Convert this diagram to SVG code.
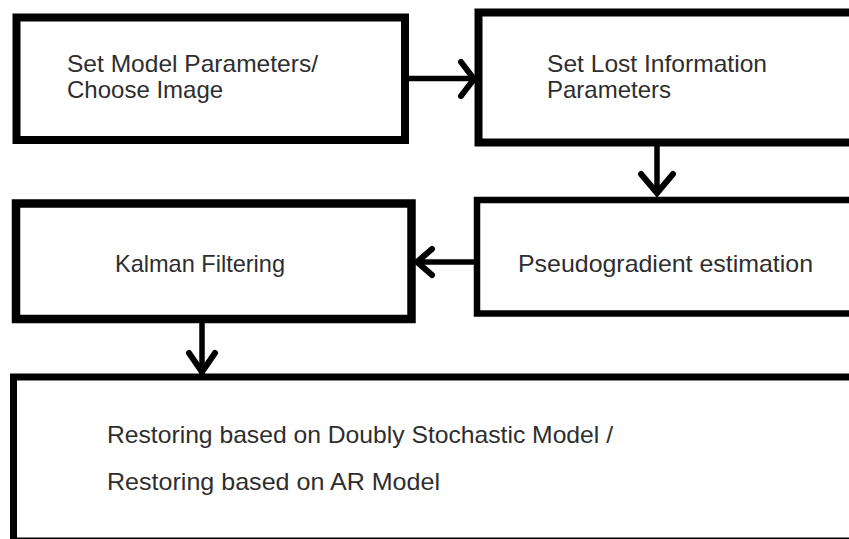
<svg xmlns="http://www.w3.org/2000/svg" width="849" height="539" viewBox="0 0 849 539">
  <style>
    .box { fill: #ffffff; stroke: #000000; }
    .lbl { font-family: "Liberation Sans", Arial, sans-serif; font-size: 24px; fill: #2e2e2e; }
    .link { fill: none; stroke: #000000; stroke-width: 5.5; }
    .head { fill: none; stroke: #000000; stroke-width: 6; stroke-linecap: round; stroke-linejoin: miter; }
  </style>
  <rect width="849" height="539" fill="#ffffff"/>

  <g id="node-set-model">
    <rect class="box" x="16.5" y="17.5" width="388.5" height="122.5" stroke-width="8"/>
    <text class="lbl" x="67" y="72" textLength="251" lengthAdjust="spacingAndGlyphs">Set Model Parameters/</text>
    <text class="lbl" x="67" y="98">Choose Image</text>
  </g>

  <g id="node-lost-info">
    <rect class="box" x="478.5" y="12.5" width="390" height="130" stroke-width="8"/>
    <text class="lbl" x="547" y="72" textLength="220" lengthAdjust="spacingAndGlyphs">Set Lost Information</text>
    <text class="lbl" x="547" y="98">Parameters</text>
  </g>

  <g id="node-pseudogradient">
    <rect class="box" x="477" y="200" width="390" height="113.5" stroke-width="6.5"/>
    <text class="lbl" x="518" y="272" textLength="295" lengthAdjust="spacingAndGlyphs">Pseudogradient estimation</text>
  </g>

  <g id="node-kalman">
    <rect class="box" x="16" y="203.5" width="395.5" height="115.5" stroke-width="8.5"/>
    <text class="lbl" x="115" y="272" textLength="170" lengthAdjust="spacingAndGlyphs">Kalman Filtering</text>
  </g>

  <g id="node-restoring">
    <rect class="box" x="13.5" y="377" width="860" height="164" stroke-width="7"/>
    <text class="lbl" x="107" y="443" textLength="506" lengthAdjust="spacingAndGlyphs">Restoring based on Doubly Stochastic Model /</text>
    <text class="lbl" x="107" y="490" textLength="333" lengthAdjust="spacingAndGlyphs">Restoring based on AR Model</text>
  </g>

  <g id="connectors">
    <!-- Set Model Parameters -> Set Lost Information -->
    <line class="link" x1="404" y1="78.5" x2="474" y2="78.5"/>
    <polyline class="head" points="461,62 474,79 461,96"/>
    <!-- Set Lost Information -> Pseudogradient -->
    <line class="link" x1="657" y1="146" x2="657" y2="194"/>
    <polyline class="head" points="641,174 657,193 673,174"/>
    <!-- Pseudogradient -> Kalman -->
    <line class="link" x1="480" y1="262" x2="417" y2="262"/>
    <polyline class="head" points="432,249 417,262 432,275"/>
    <!-- Kalman -> Restoring -->
    <line class="link" x1="202" y1="323" x2="202" y2="374"/>
    <polyline class="head" points="189,353 202,372 215,353"/>
  </g>
</svg>
